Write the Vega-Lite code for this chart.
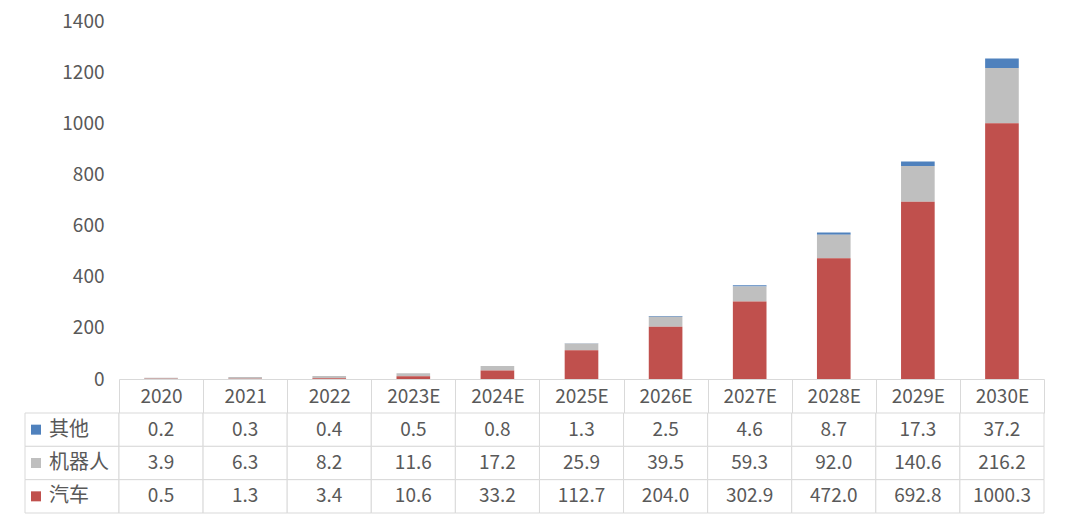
{
  "$schema": "https://vega.github.io/schema/vega-lite/v6.json",
  "background": "white",
  "padding": {"left": 24, "top": 12, "right": 5, "bottom": 5},
  "columns": 2,
  "spacing": {"row": 34, "column": 0},
  "bounds": "flush",
  "datasets": {
    "d": [
      {"year": "2020", "series": "其他", "value": 0.2},
      {"year": "2021", "series": "其他", "value": 0.3},
      {"year": "2022", "series": "其他", "value": 0.4},
      {"year": "2023E", "series": "其他", "value": 0.5},
      {"year": "2024E", "series": "其他", "value": 0.8},
      {"year": "2025E", "series": "其他", "value": 1.3},
      {"year": "2026E", "series": "其他", "value": 2.5},
      {"year": "2027E", "series": "其他", "value": 4.6},
      {"year": "2028E", "series": "其他", "value": 8.7},
      {"year": "2029E", "series": "其他", "value": 17.3},
      {"year": "2030E", "series": "其他", "value": 37.2},
      {"year": "2020", "series": "机器人", "value": 3.9},
      {"year": "2021", "series": "机器人", "value": 6.3},
      {"year": "2022", "series": "机器人", "value": 8.2},
      {"year": "2023E", "series": "机器人", "value": 11.6},
      {"year": "2024E", "series": "机器人", "value": 17.2},
      {"year": "2025E", "series": "机器人", "value": 25.9},
      {"year": "2026E", "series": "机器人", "value": 39.5},
      {"year": "2027E", "series": "机器人", "value": 59.3},
      {"year": "2028E", "series": "机器人", "value": 92.0},
      {"year": "2029E", "series": "机器人", "value": 140.6},
      {"year": "2030E", "series": "机器人", "value": 216.2},
      {"year": "2020", "series": "汽车", "value": 0.5},
      {"year": "2021", "series": "汽车", "value": 1.3},
      {"year": "2022", "series": "汽车", "value": 3.4},
      {"year": "2023E", "series": "汽车", "value": 10.6},
      {"year": "2024E", "series": "汽车", "value": 33.2},
      {"year": "2025E", "series": "汽车", "value": 112.7},
      {"year": "2026E", "series": "汽车", "value": 204.0},
      {"year": "2027E", "series": "汽车", "value": 302.9},
      {"year": "2028E", "series": "汽车", "value": 472.0},
      {"year": "2029E", "series": "汽车", "value": 692.8},
      {"year": "2030E", "series": "汽车", "value": 1000.3}
    ],
    "s": [
      {"series": "其他"},
      {"series": "机器人"},
      {"series": "汽车"}
    ]
  },
  "concat": [
    {
      "width": 94,
      "height": 358,
      "data": {"values": []},
      "mark": "point",
      "encoding": {}
    },
    {
      "width": 925,
      "height": 358,
      "data": {"name": "d"},
      "mark": {"type": "bar", "width": {"band": 0.4}},
      "encoding": {
        "x": {
          "field": "year", "type": "nominal",
          "scale": {"domain": ["2020","2021","2022","2023E","2024E","2025E","2026E","2027E","2028E","2029E","2030E"], "paddingInner": 0, "paddingOuter": 0},
          "axis": {"title": null, "labelAngle": 0, "domainColor": "#d9d9d9", "tickColor": "#d9d9d9", "tickSize": 34, "tickBand": "extent", "labelPadding": -17, "labelBaseline": "middle", "labelFontSize": 19, "labelColor": "#595959", "labelOverlap": false, "labelFlush": false}
        },
        "y": {
          "field": "value", "type": "quantitative",
          "scale": {"domain": [0, 1400]},
          "axis": {"title": null, "values": [0,200,400,600,800,1000,1200,1400], "format": "d", "grid": false, "domain": false, "ticks": false, "labelPadding": 15, "labelFontSize": 19, "labelColor": "#595959"}
        },
        "color": {
          "field": "series", "type": "nominal",
          "scale": {"domain": ["汽车","机器人","其他"], "range": ["#C0504D","#BFBFBF","#4F81BD"]},
          "legend": null
        },
        "order": {"field": "series", "sort": "descending"}
      }
    },
    {
      "width": 94,
      "height": 100,
      "data": {"name": "s"},
      "encoding": {
        "y": {"field": "series", "type": "nominal", "scale": {"type": "band", "domain": ["其他","机器人","汽车"], "paddingInner": 0, "paddingOuter": 0}, "axis": null}
      },
      "layer": [
        {"mark": {"type": "rect", "fill": "white", "stroke": "#d9d9d9"}},
        {
          "mark": {"type": "point", "shape": "square", "filled": true, "size": 100, "opacity": 1, "xOffset": -36},
          "encoding": {"color": {"field": "series", "type": "nominal", "legend": null}}
        },
        {
          "mark": {"type": "text", "align": "left", "dx": -23, "fontSize": 20, "color": "#595959"},
          "encoding": {"text": {"field": "series"}}
        }
      ]
    },
    {
      "width": 925,
      "height": 100,
      "data": {"name": "d"},
      "encoding": {
        "x": {"field": "year", "type": "nominal", "scale": {"domain": ["2020","2021","2022","2023E","2024E","2025E","2026E","2027E","2028E","2029E","2030E"], "paddingInner": 0, "paddingOuter": 0}, "axis": null},
        "y": {"field": "series", "type": "nominal", "scale": {"type": "band", "domain": ["其他","机器人","汽车"], "paddingInner": 0, "paddingOuter": 0}, "axis": null}
      },
      "layer": [
        {"mark": {"type": "rect", "fill": "white", "stroke": "#d9d9d9"}},
        {
          "mark": {"type": "text", "fontSize": 19, "color": "#595959"},
          "encoding": {"text": {"field": "value", "type": "quantitative", "format": ".1f"}}
        }
      ]
    }
  ],
  "config": {
    "view": {"stroke": null},
    "font": "Noto Sans CJK SC"
  }
}
